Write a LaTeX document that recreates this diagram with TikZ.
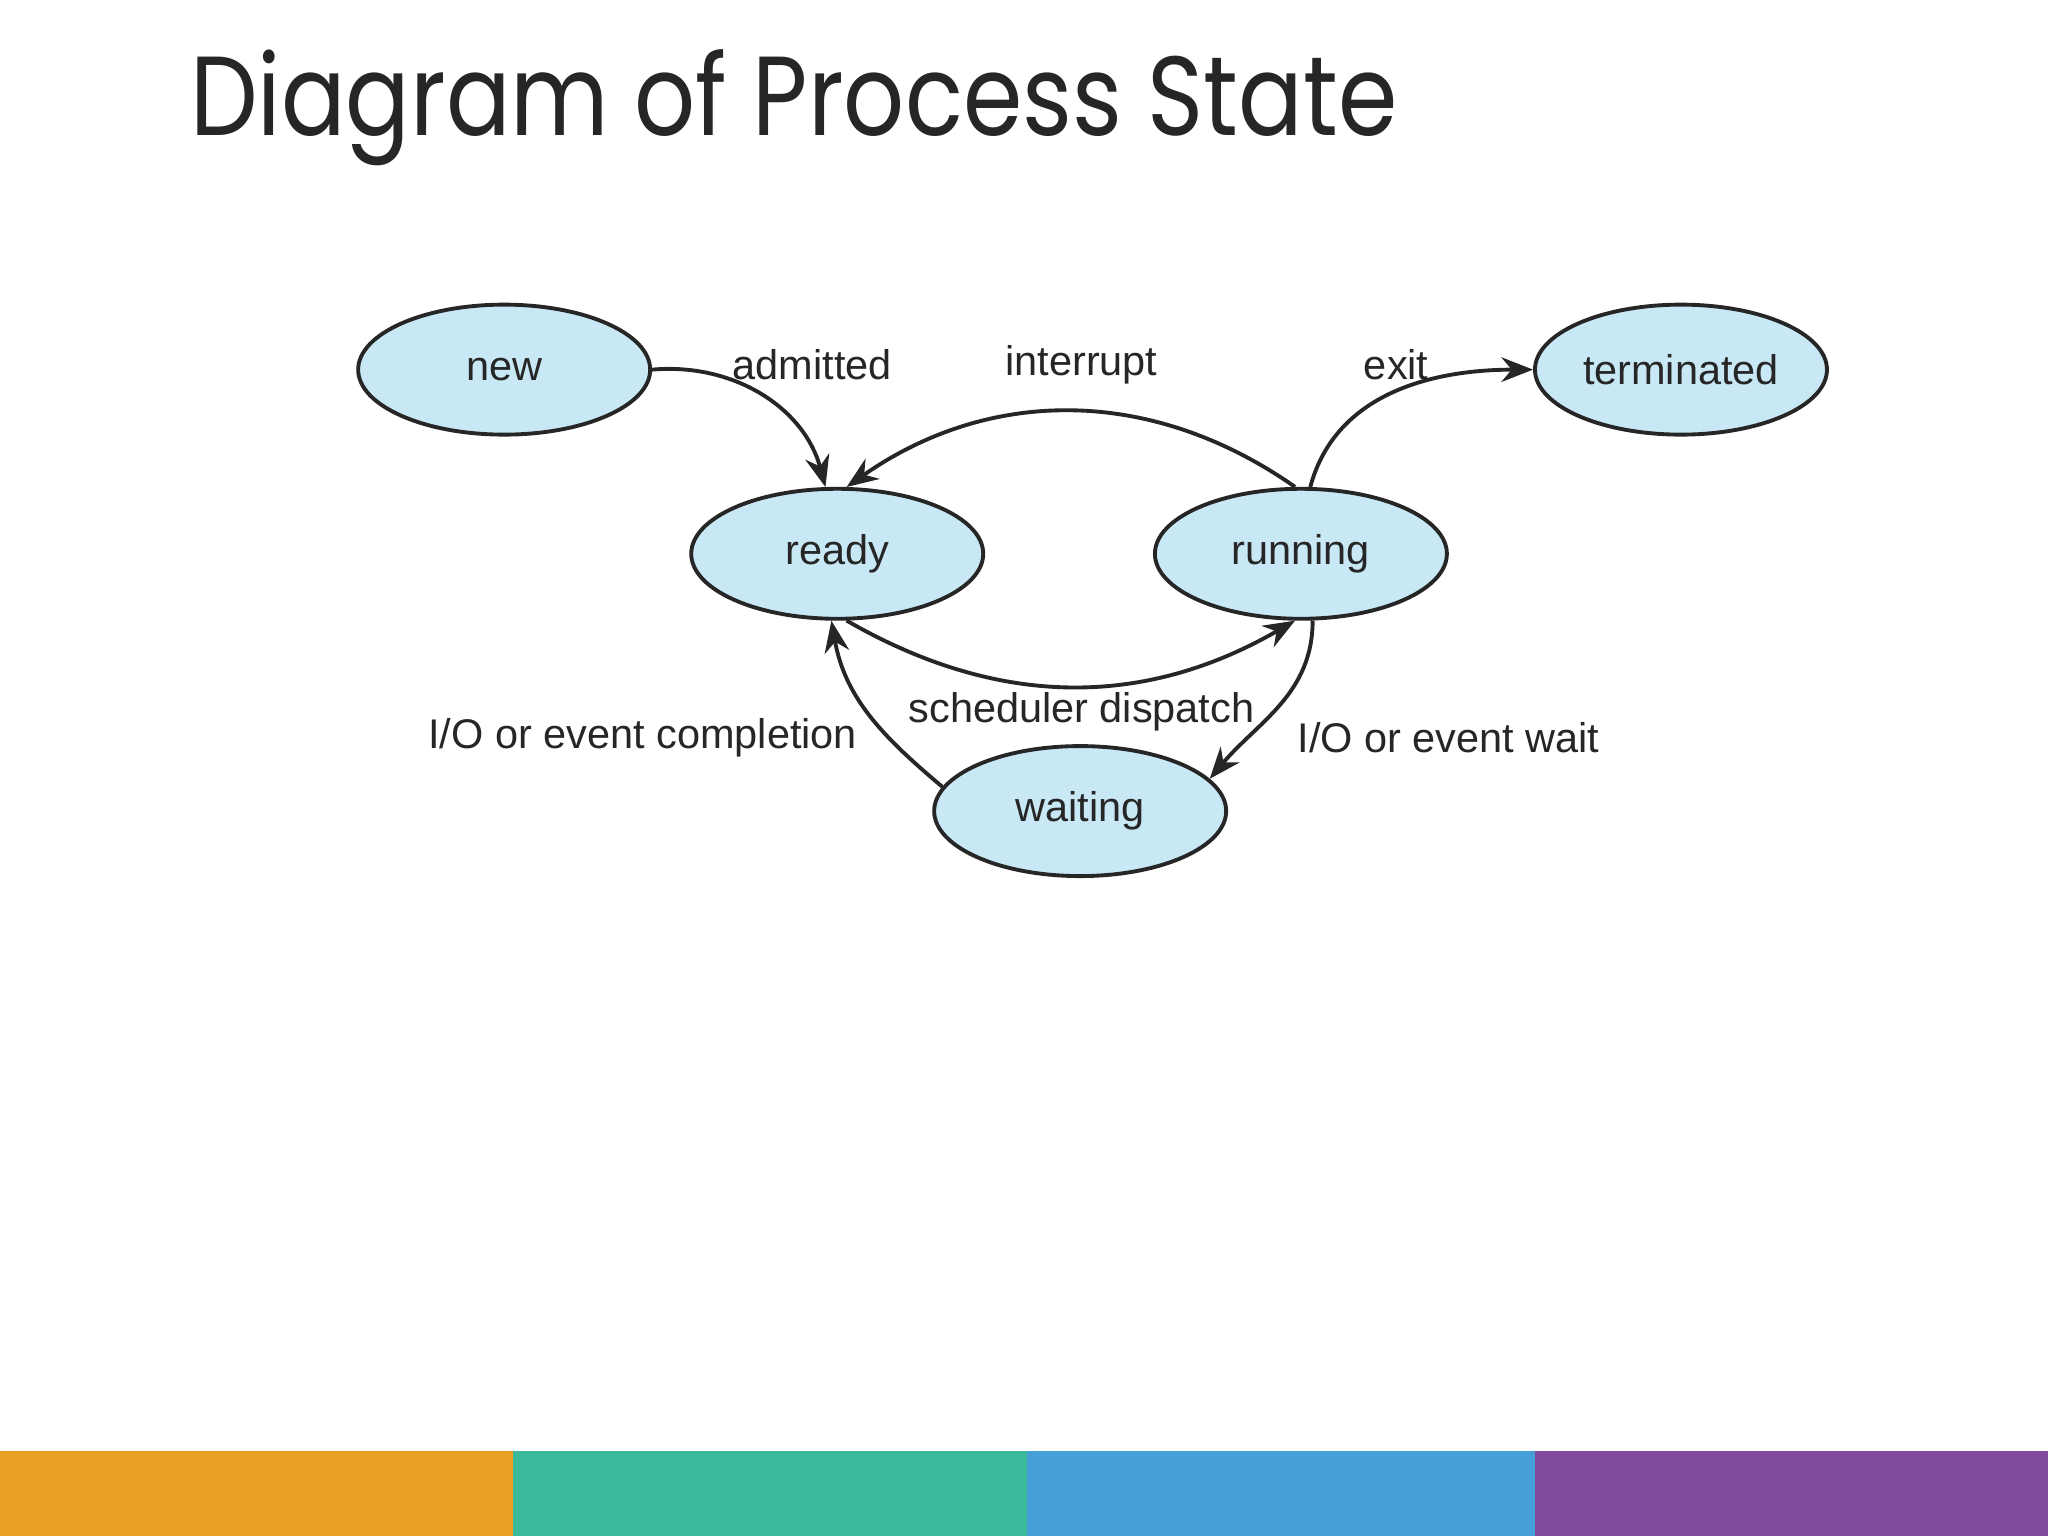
\documentclass[tikz,border=0pt]{standalone}
\usepackage{fontspec}
\setmainfont{Liberation Sans}
\newfontfamily\titlefont{Poppins}
\usetikzlibrary{shapes.geometric,arrows.meta}
\begin{document}
\begin{tikzpicture}[x=0.01306cm,y=-0.01306cm,
  st/.style={ellipse,draw=black!85,line width=1.1pt,fill={rgb,255:red,200;green,232;blue,246},minimum width=2.92cm,minimum height=1.3cm,inner sep=0pt,font=\fontsize{11.8}{14}\selectfont,text=black!85},
  ar/.style={-{Stealth[length=9pt,width=7pt]},line width=1.1pt,draw=black!85},
  lb/.style={font=\fontsize{11.8}{14}\selectfont,text=black!85}]
\useasboundingbox (0,0) rectangle (1568,1176);
\fill[white] (0,0) rectangle (1568,1176);
\node[anchor=base west,inner sep=0pt,font=\titlefont\fontsize{32}{40}\selectfont,text=black!85] (title) at (145,104) {\scalebox{0.85}[1]{Diagram of Process State}};
\node[st] (new) at (386,283) {new};
\node[st] (ready) at (641,424) {ready};
\node[st] (running) at (996,424) {running};
\node[st] (term) at (1287,283) {terminated};
\node[st] (wait) at (827,621) {waiting};
\draw[ar] (new.east) to[out=5,in=105] (ready.100);
\draw[ar] (running.95) to[out=145,in=35] (ready.82);
\draw[ar] (ready.-82) to[out=-30,in=-150] (running.-95);
\draw[ar] (running.82) to[out=75,in=180] (term.west);
\draw[ar] (running.-80) to[out=-90,in=50] (wait.14);
\draw[ar] (wait.170) to[out=140,in=-80] (ready.-95);
\node[lb] (l1) at (622,279) {admitted};
\node[lb] (l2) at (828,279) {interrupt};
\node[lb] (l3) at (1069,279) {exit};
\node[lb] (l4) at (828,545) {scheduler dispatch};
\node[lb] (l5) at (492,565) {I/O or event completion};
\node[lb] (l6) at (1109,565) {I/O or event wait};
\fill[color={rgb,255:red,236;green,160;blue,35}] (0,1111) rectangle (393,1176);
\fill[color={rgb,255:red,59;green,185;blue,154}] (393,1111) rectangle (786,1176);
\fill[color={rgb,255:red,71;green,159;blue,216}] (786,1111) rectangle (1175,1176);
\fill[color={rgb,255:red,129;green,76;blue,158}] (1175,1111) rectangle (1568,1176);
\end{tikzpicture}
\end{document}
